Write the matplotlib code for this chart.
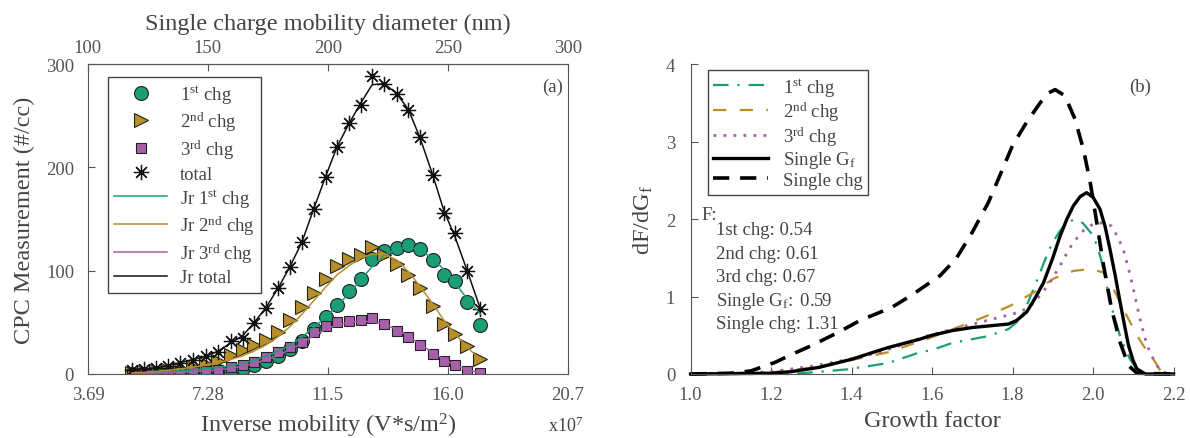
import matplotlib
matplotlib.use("Agg")
import matplotlib.pyplot as plt
import numpy as np

plt.rcParams['font.family'] = ['Liberation Serif', 'DejaVu Serif']
plt.rcParams['mathtext.fontset'] = 'custom'
plt.rcParams['mathtext.rm'] = 'Liberation Serif'
plt.rcParams['mathtext.it'] = 'Liberation Serif:italic'
plt.rcParams['text.color'] = '#444444'
plt.rcParams['axes.labelcolor'] = '#444444'
plt.rcParams['xtick.color'] = '#555555'
plt.rcParams['ytick.color'] = '#555555'
plt.rcParams['axes.edgecolor'] = '#555555'

# ---- panel (a): CPC counts vs. mobility diameter ----
diam = [118.5, 123.3, 128.2, 133.3, 138.5, 143.8, 149.0, 154.2, 159.4, 164.4,
        169.0, 174.1, 179.2, 184.2, 189.2, 194.1, 199.0, 203.8, 208.9, 213.6,
        218.4, 223.5, 228.8, 233.5, 238.3, 243.6, 248.3, 252.9, 258.0, 263.5]

chg1 = [0, 0.3, 0.6, 1.0, 1.3, 1.8, 2.3, 2.8, 3.2, 5.5,
        8.7, 12.9, 17.8, 24.3, 32.3, 43.7, 55, 67, 80, 92,
        111, 119, 122, 124.6, 120.7, 110, 96, 89.6, 69.6, 47.6]
chg2 = [1.0, 1.5, 2.5, 3.5, 5.0, 7.0, 9.5, 13, 18, 23,
        28, 33, 41, 52, 65, 78, 92, 104.5, 111.7, 114.9,
        123, 114.9, 106.8, 96, 83.2, 65.7, 48.5, 38.8, 26.9, 14.6]
chg3 = [0.3, 0.5, 0.8, 1.0, 1.5, 2.0, 2.6, 4.2, 6.5, 8.7,
        11.4, 16.2, 21, 25.9, 30.7, 40.4, 46.9, 50.2, 51.7, 52.4,
        54, 48.5, 42, 35.6, 28.2, 19.4, 12.9, 8.7, 3.2, 0.7]
total = [4, 5, 6, 8, 11, 14, 17, 21, 32, 35,
         49, 64, 83, 104, 128, 160, 191, 220, 243, 260,
         288, 281, 271, 256, 229, 193, 156, 136, 100, 63]

jr1 = [0.5, 1, 1.5, 2, 3, 4, 5, 6.5, 8, 10,
       13, 17, 22, 28, 36, 45, 55, 66, 78, 91,
       104, 115, 121, 123, 120, 112, 101, 88, 73, 58]
jr2 = [1, 1.5, 2.5, 3.5, 5, 6.5, 8.5, 11, 14, 17.5,
       22, 28, 36, 46, 58, 71, 84, 96, 105, 112,
       116, 116, 110, 99, 85, 68, 52, 39, 26, 14]
jr3 = [0.3, 0.5, 0.8, 1.2, 1.7, 2.3, 3, 4, 5.5, 7.5,
       10, 13.5, 18, 23.5, 30, 37, 43, 47.5, 50, 51,
       50.5, 48, 43, 36.5, 29, 21, 14, 8.5, 4, 1]
jr_total = [4, 5, 6, 8, 11, 14, 17, 22, 30, 37,
            49, 64, 83, 104, 128, 160, 191, 220, 243, 262,
            280, 281, 271, 256, 229, 193, 158, 133, 100, 63]

diam_ticks = [100, 150, 200, 250, 300]
inv_mob_labels = ['3.69', '7.28', '11.5', '16.0', '20.7']

# ---- panel (b): growth factor distributions ----
gf1 = [1.00, 1.25, 1.30, 1.39, 1.49, 1.57, 1.60, 1.65, 1.74, 1.79, 1.82, 1.835,
       1.852, 1.87, 1.885, 1.90, 1.918, 1.935, 1.951, 1.965, 1.976, 2.001,
       2.012, 2.022, 2.032, 2.042, 2.055, 2.067, 2.08, 2.092, 2.113, 2.13, 2.20]
pdf1 = [0, 0, 0.02, 0.06, 0.14, 0.28, 0.31, 0.40, 0.49, 0.58, 0.71, 0.88,
        1.10, 1.33, 1.53, 1.70, 1.85, 1.95, 1.99, 1.98, 1.94, 1.78,
        1.62, 1.44, 1.20, 0.93, 0.70, 0.49, 0.32, 0.19, 0.03, 0, 0]

gf2 = [1.00, 1.15, 1.20, 1.30, 1.40, 1.49, 1.587, 1.653, 1.736, 1.794, 1.852,
       1.901, 1.951, 1.993, 2.026, 2.042, 2.059, 2.075, 2.092, 2.108, 2.125,
       2.150, 2.163, 2.17, 2.20]
pdf2 = [0, 0, 0.02, 0.08, 0.18, 0.28, 0.45, 0.58, 0.75, 0.88, 1.05,
        1.23, 1.33, 1.355, 1.31, 1.18, 1.01, 0.84, 0.67, 0.51, 0.365,
        0.19, 0.08, 0.02, 0]

gf3 = [1.00, 1.10, 1.20, 1.30, 1.421, 1.50, 1.587, 1.653, 1.736, 1.819, 1.845,
       1.868, 1.893, 1.918, 1.935, 1.951, 1.976, 2.001, 2.025, 2.046, 2.06,
       2.075, 2.088, 2.100, 2.11, 2.121, 2.131, 2.141, 2.158, 2.17, 2.20]
pdf3 = [0, 0.005, 0.03, 0.10, 0.215, 0.33, 0.49, 0.58, 0.69, 0.80, 0.88,
        1.01, 1.18, 1.40, 1.56, 1.70, 1.85, 1.94, 1.95, 1.91, 1.78,
        1.61, 1.36, 1.10, 0.86, 0.62, 0.43, 0.28, 0.11, 0.03, 0]

gf_sgf = [1.00, 1.20, 1.25, 1.32, 1.40, 1.49, 1.57, 1.60, 1.65, 1.70, 1.74,
          1.79, 1.81, 1.835, 1.855, 1.877, 1.90, 1.918, 1.935, 1.951, 1.968,
          1.984, 2.00, 2.017, 2.03, 2.042, 2.055, 2.067, 2.078, 2.088, 2.099,
          2.109, 2.13, 2.20]
pdf_sgf = [0, 0.01, 0.03, 0.086, 0.19, 0.34, 0.45, 0.50, 0.56, 0.60, 0.62,
           0.645, 0.69, 0.80, 0.97, 1.18, 1.50, 1.78, 2.00, 2.17, 2.29,
           2.34, 2.28, 2.13, 1.90, 1.61, 1.27, 0.93, 0.63, 0.37, 0.18,
           0.065, 0, 0]

gf_sc = [1.00, 1.10, 1.15, 1.21, 1.25, 1.30, 1.37, 1.42, 1.50, 1.55, 1.62,
         1.66, 1.70, 1.74, 1.77, 1.80, 1.835, 1.87, 1.89, 1.906, 1.93, 1.955,
         1.976, 1.993, 2.009, 2.026, 2.046, 2.067, 2.088, 2.109, 2.20]
pdf_sc = [0, 0.01, 0.04, 0.15, 0.25, 0.365, 0.546, 0.688, 0.86, 1.02, 1.27,
          1.49, 1.83, 2.215, 2.58, 2.95, 3.25, 3.51, 3.63, 3.67, 3.59, 3.29,
          2.90, 2.47, 1.96, 1.40, 0.84, 0.41, 0.11, 0.01, 0]

frac_lines = ['1st chg: 0.54', '2nd chg: 0.61', '3rd chg: 0.67',
              '$\\rm Single\\ G_f\\!:\\ 0.59$', 'Single chg: 1.31']

teal = '#1b9e77'
gold = '#b8902a'
purple = '#a85fab'
edge = '#222222'

fig = plt.figure(figsize=(11.9, 4.39), dpi=100)
ax = fig.add_axes([0.0739, 0.1458, 0.4034, 0.706])
bx = fig.add_axes([0.5803, 0.1458, 0.4059, 0.706])

# panel (a)
ax.plot(diam, chg1, 'o', ms=10, mfc=teal, mec=edge, mew=0.8, label='1$^{\\rm st}$ chg')
ax.plot(diam, chg2, '>', ms=10.5, mfc=gold, mec=edge, mew=0.8, label='2$^{\\rm nd}$ chg')
ax.plot(diam, chg3, 's', ms=7.5, mfc=purple, mec=edge, mew=0.8, label='3$^{\\rm rd}$ chg')
ax.plot(diam, total, ls='none', marker=(8, 2, 0), ms=11, mec='#111111', mew=0.9, label='total')
ax.plot(diam, jr1, color=teal, lw=1.1, label='Jr 1$^{\\rm st}$ chg')
ax.plot(diam, jr2, color=gold, lw=1.1, label='Jr 2$^{\\rm nd}$ chg')
ax.plot(diam, jr3, color=purple, lw=1.1, label='Jr 3$^{\\rm rd}$ chg')
ax.plot(diam, jr_total, color='#111111', lw=1.1, label='Jr total')

ax.set_xlim(100, 300)
ax.set_ylim(0, 300)
ax.set_xticks(diam_ticks)
ax.set_xticklabels(inv_mob_labels)
ax.set_yticks([0, 100, 200, 300])
ax.tick_params(direction='in', length=5, labelsize=13.5, pad=9)
ax.tick_params(axis='y', pad=10)
ax.set_xlabel('Inverse mobility (V*s/m$^2$)', fontsize=17.5, labelpad=5)
ax.set_ylabel('CPC Measurement (#/cc)', fontsize=17.5, labelpad=8)
ax.text(0.996, -0.165, 'x10$^7$', transform=ax.transAxes, ha='center', va='center', fontsize=13)
ax.text(0.967, 0.929, '(a)', transform=ax.transAxes, ha='center', va='center', fontsize=13.5)

top = ax.secondary_xaxis('top')
top.set_xticks(diam_ticks)
top.tick_params(direction='in', length=5, labelsize=13.5, pad=6)
top.set_xlabel('Single charge mobility diameter (nm)', fontsize=17.5, labelpad=7)

leg = ax.legend(loc='upper left', bbox_to_anchor=(0.022, 0.99), fontsize=13.5,
                handlelength=2.8, handletextpad=0.7, labelspacing=0.24,
                borderpad=0.35, fancybox=False, framealpha=1, numpoints=1)
leg.get_frame().set_edgecolor('#444444')
leg.get_frame().set_linewidth(1.0)

# panel (b)
bx.plot(gf1, pdf1, color=teal, lw=1.6, ls=(0, (7, 4, 1, 4)), clip_on=False, label='1$^{\\rm st}$ chg')
bx.plot(gf2, pdf2, color=gold, lw=1.6, ls=(0, (6, 6)), clip_on=False, label='2$^{\\rm nd}$ chg')
bx.plot(gf3, pdf3, color=purple, lw=2.0, ls=(0, (1, 2.6)), clip_on=False, label='3$^{\\rm rd}$ chg')
bx.plot(gf_sgf, pdf_sgf, color='black', lw=2.4, clip_on=False, label='Single G$_{\\rm f}$')
bx.plot(gf_sc, pdf_sc, color='black', lw=2.6, ls=(0, (4.5, 3)), clip_on=False, label='Single chg')

bx.set_xlim(1.0, 2.2)
bx.set_ylim(0, 4)
bx.set_xticks(np.arange(1.0, 2.21, 0.2))
bx.set_xticklabels(['1.0', '1.2', '1.4', '1.6', '1.8', '2.0', '2.2'])
bx.set_yticks([0, 1, 2, 3, 4])
bx.spines['top'].set_visible(False)
bx.spines['right'].set_visible(False)
bx.tick_params(direction='in', length=5, labelsize=13.5, pad=9)
bx.tick_params(axis='y', pad=11)
bx.set_xlabel('Growth factor', fontsize=17.5, labelpad=5)
bx.set_ylabel('dF/dG$_{\\rm f}$', fontsize=17.5, labelpad=8)
bx.text(0.931, 0.928, '(b)', transform=bx.transAxes, ha='center', va='center', fontsize=13.5)

leg2 = bx.legend(loc='upper left', bbox_to_anchor=(0.016, 1.01), fontsize=13.5,
                 handlelength=2.9, handletextpad=0.8, labelspacing=0.08,
                 borderpad=0.3, fancybox=False, framealpha=1)
leg2.get_frame().set_edgecolor('#444444')
leg2.get_frame().set_linewidth(1.0)

bx.text(0.023, 0.514, 'F:', transform=bx.transAxes, ha='left', va='center', fontsize=13.5)
for i, line in enumerate(frac_lines):
    bx.text(0.053, 0.465 - i * 0.0755, line, transform=bx.transAxes,
            ha='left', va='center', fontsize=13.5)

fig.savefig('out.png', dpi=100)
